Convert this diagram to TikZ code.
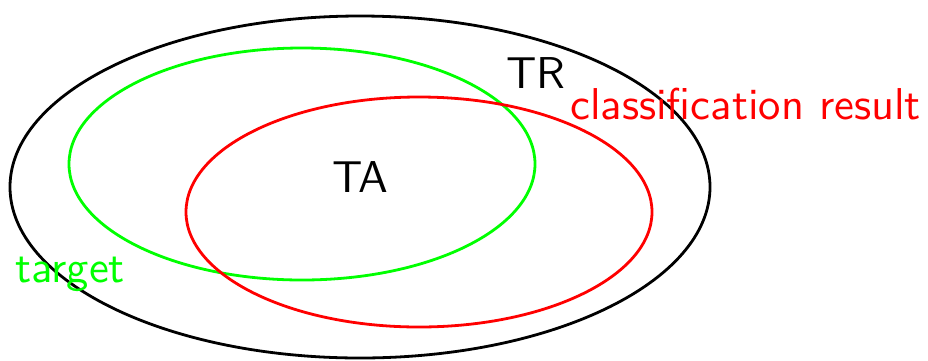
\documentclass[tikz,border=0pt]{standalone}
\usepackage{fontspec}
\setmainfont{lmsans10-regular.otf}
\begin{document}
\begin{tikzpicture}[x=1pt,y=-1pt,
  ring/.style={line width=2.8pt},
  lbl/.style={inner sep=0pt,anchor=base west,font=\fontsize{44.6}{48}\selectfont}]
\useasboundingbox (0,0) rectangle (928,360);
\draw[ring,black] (360,187) ellipse [x radius=350, y radius=171];
\draw[ring,green] (302,164) ellipse [x radius=233, y radius=116];
\draw[ring,red] (419,212) ellipse [x radius=233, y radius=115];
\node[lbl,black] (tr) at (506,88) {TR};
\node[lbl,red] (cr) at (570,119) {classification result};
\node[lbl,black] (ta) at (332,192) {TA};
\node[lbl,green] (tg) at (15,282) {target};
\end{tikzpicture}
\end{document}
